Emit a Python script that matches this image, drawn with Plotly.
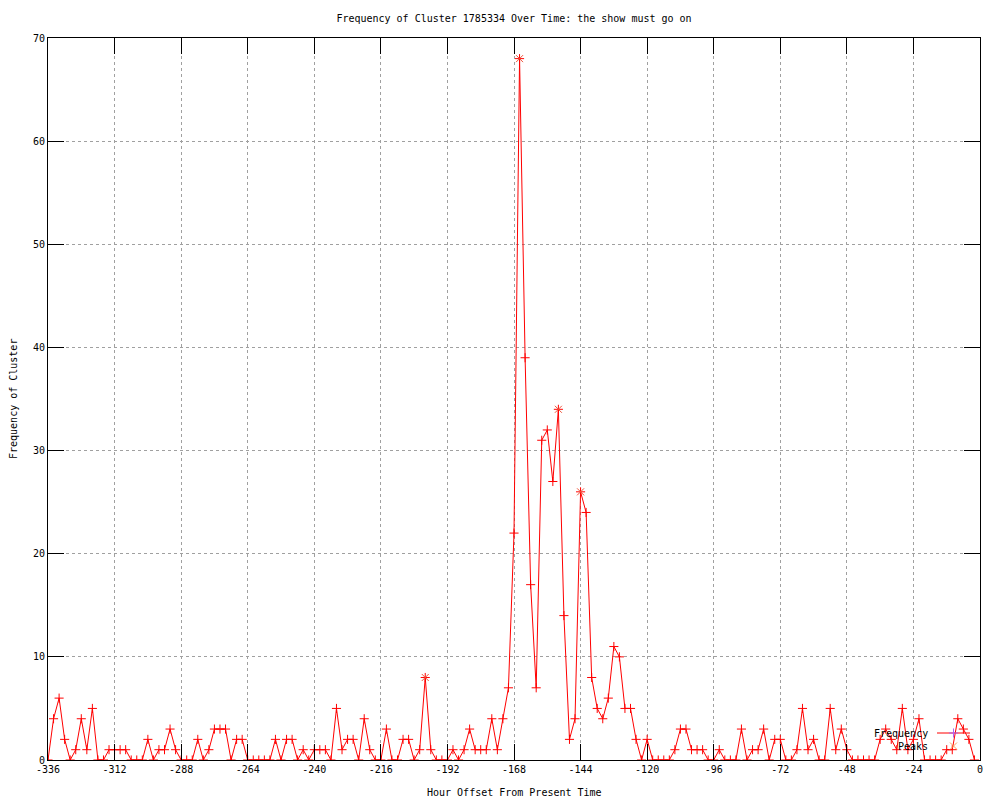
import plotly.graph_objects as go

# ---- data ----
hours = list(range(-336, 0, 2))  # one sample every 2 hours, -336 .. -2
frequency = [
    0, 4, 6, 2, 0, 1, 4, 1, 5, 0,
    0, 1, 1, 1, 1, 0, 0, 0, 2, 0,
    1, 1, 3, 1, 0, 0, 0, 2, 0, 1,
    3, 3, 3, 0, 2, 2, 0, 0, 0, 0,
    0, 2, 0, 2, 2, 0, 1, 0, 1, 1,
    1, 0, 5, 1, 2, 2, 0, 4, 1, 0,
    0, 3, 0, 0, 2, 2, 0, 1, 8, 1,
    0, 0, 0, 1, 0, 1, 3, 1, 1, 1,
    4, 1, 4, 7, 22, 68, 39, 17, 7, 31,
    32, 27, 34, 14, 2, 4, 26, 24, 8, 5,
    4, 6, 11, 10, 5, 5, 2, 0, 2, 0,
    0, 0, 0, 1, 3, 3, 1, 1, 1, 0,
    0, 1, 0, 0, 0, 3, 0, 1, 1, 3,
    0, 2, 2, 0, 0, 1, 5, 1, 2, 0,
    0, 5, 1, 3, 1, 0, 0, 0, 0, 0,
    2, 3, 2, 1, 5, 1, 2, 4, 0, 0,
    0, 0, 1, 1, 4, 3, 2, 0,
]
peak_hours = [-200, -166, -152, -144]
peak_values = [8, 68, 34, 26]

x_ticks = list(range(-336, 1, 24))
y_ticks = list(range(0, 71, 10))

title_text = "Frequency of Cluster 1785334 Over Time: the show must go on"
x_title = "Hour Offset From Present Time"
y_title = "Frequency of Cluster"
legend_names = ["Frequency", "Peaks"]

RED = "#ff0000"
GREEN = "#00c000"
FONT = dict(family="DejaVu Sans Mono", size=10, color="black")

# page has an 8px body margin, so the figure is laid out in figure pixels
W, H = 992, 792
PL, PR, PT, PB = 40, 972, 30, 752   # plot-area edges in figure pixels

fig = go.Figure()

fig.add_trace(go.Scatter(
    x=hours, y=frequency, mode="lines+markers", name=legend_names[0],
    line=dict(color=RED, width=1),
    marker=dict(symbol="cross-thin-open", size=6.5, line=dict(color=RED, width=1)),
    showlegend=False,
))
fig.add_trace(go.Scatter(
    x=peak_hours, y=peak_values, mode="markers", name=legend_names[1],
    marker=dict(symbol="x-thin-open", size=7, line=dict(color=GREEN, width=1)),
    showlegend=False,
))

# ---- gnuplot-style key (text left of sample), drawn on a pixel overlay axis ----
key_text_right = 922
key_sample = [929, 962]
key_rows = [725, 738]
fig.add_trace(go.Scatter(
    x=key_sample, y=[key_rows[0]] * 2, mode="lines", xaxis="x2", yaxis="y2",
    line=dict(color=RED, width=1), showlegend=False, hoverinfo="skip",
))
fig.add_trace(go.Scatter(
    x=[sum(key_sample) / 2], y=[key_rows[0]], mode="markers", xaxis="x2", yaxis="y2",
    marker=dict(symbol="cross-thin-open", size=6.5, line=dict(color=RED, width=1)),
    showlegend=False, hoverinfo="skip",
))
fig.add_trace(go.Scatter(
    x=[sum(key_sample) / 2], y=[key_rows[1]], mode="markers", xaxis="x2", yaxis="y2",
    marker=dict(symbol="x-thin-open", size=7, line=dict(color=GREEN, width=1)),
    showlegend=False, hoverinfo="skip",
))
for name, row in zip(legend_names, key_rows):
    fig.add_annotation(
        x=key_text_right, y=row, xref="x2", yref="y2", text=name, showarrow=False,
        xanchor="right", yanchor="middle", font=FONT,
    )

axis_common = dict(
    showline=True, linecolor="black", linewidth=1, mirror="ticks",
    ticks="inside", ticklen=16, tickcolor="black", tickwidth=1,
    showgrid=True, gridcolor="#a0a0a0", gridwidth=1, griddash="3px,3px",
    zeroline=False, tickfont=FONT,
)

fig.update_layout(
    width=W, height=H,
    margin=dict(l=PL, r=W - PR, t=PT, b=H - PB),
    paper_bgcolor="white", plot_bgcolor="white",
    font=FONT,
    title=dict(text=title_text, x=0.5, xref="paper", y=1 - 10 / H, yref="container",
               xanchor="center", yanchor="middle", font=FONT),
    xaxis=dict(range=[-336, 0], tickvals=x_ticks, ticktext=[str(v) for v in x_ticks],
               **axis_common),
    yaxis=dict(range=[0, 70], tickvals=y_ticks, **axis_common),
    xaxis2=dict(range=[PL, PR], overlaying="x", visible=False, fixedrange=True),
    yaxis2=dict(range=[PB, PT], overlaying="y", visible=False, fixedrange=True),
    annotations=list(fig.layout.annotations) + [
        dict(text=x_title, x=0.5, y=-(785 - PB) / (PB - PT), xref="paper", yref="paper",
             showarrow=False, xanchor="center", yanchor="middle", font=FONT),
        dict(text=y_title, x=-(PL - 5) / (PR - PL), y=0.5, xref="paper", yref="paper",
             showarrow=False, xanchor="center", yanchor="middle", textangle=-90, font=FONT),
    ],
)

fig.write_html("out.html")
